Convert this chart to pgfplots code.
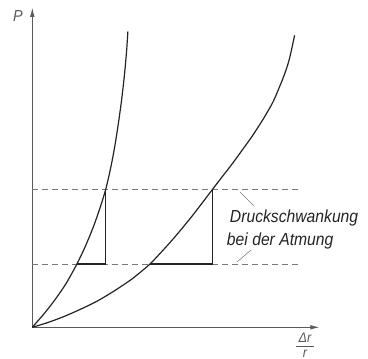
\documentclass[border=0pt]{standalone}
\usepackage{fontspec}
\setmainfont{Liberation Sans}
\newfontfamily\din[FakeStretch=0.9]{Liberation Sans}
\usepackage{pgfplots}
\pgfplotsset{compat=1.18}
\usetikzlibrary{arrows.meta}
\definecolor{axisgray}{RGB}{90,90,90}
\definecolor{curveblack}{RGB}{35,35,35}
\definecolor{dashgray}{RGB}{120,120,120}

\begin{document}
\begin{tikzpicture}
\begin{axis}[
  at={(0,0)}, anchor=origin,
  x=1bp, y=1bp,
  xmin=0, xmax=287, ymin=0, ymax=319.5,
  enlargelimits=false,
  axis lines=left,
  axis line style={axisgray, line width=0.7bp},
  x axis line style={-{Latex[length=9bp,width=4.5bp]}},
  y axis line style={-{Latex[length=9bp,width=4.5bp]}},
  xtick=\empty, ytick=\empty,
  clip=false,
]
  % pressure levels (breathing range)
  \addplot[dashgray, line width=0.8bp, dash pattern=on 6bp off 4bp]
    coordinates {(0,63.3)(267,63.3)};
  \addplot[dashgray, line width=0.8bp, dash pattern=on 6bp off 4bp]
    coordinates {(0,138.3)(267,138.3)};

  % steep curve
  \addplot[curveblack, line width=1.2bp, smooth] coordinates {
    (0,0)(11.7,13.5)(22.5,27.3)(33.9,44)(44.6,63.3)(52.6,80)(60.9,100)
    (67.9,120)(73.5,138.3)(78.5,160)(82.3,180)(85.5,200)(89,225)
    (91.9,250)(94.2,275)(95.6,296)};
  % flat curve
  \addplot[curveblack, line width=1.2bp, smooth] coordinates {
    (0,0)(15,4.6)(31,10.5)(47,17.5)(64,25.7)(81,35.8)(98,47.1)(108,55)
    (117.7,63.3)(129,75.2)(140,87.4)(150,99.2)(160,111.5)(170,124.5)
    (180.5,138.3)(190,150.7)(200,163.6)(210,177.3)(220,191.3)(230,206.8)
    (240,224)(246,237.5)(252,252.5)(257,268)(262.3,292)};

  % triangles
  \addplot[curveblack, line width=1.1bp] coordinates {(44.6,63.3)(73.5,63.3)(73.5,138.3)};
  \addplot[curveblack, line width=1.1bp] coordinates {(117.7,63.3)(180.5,63.3)(180.5,138.3)};

  % leader lines
  \addplot[dashgray, line width=0.5bp] coordinates {(207.7,135.3)(221.7,121.3)};
  \addplot[dashgray, line width=0.5bp] coordinates {(218.7,77.3)(204.7,65.3)};

  \node[anchor=base west, inner sep=0pt, text=curveblack]
    at (axis cs:197.5,105.3) {\din\itshape\fontsize{17.5}{20}\selectfont Druckschwankung};
  \node[anchor=base west, inner sep=0pt, text=curveblack]
    at (axis cs:194.5,82.3) {\din\itshape\fontsize{17.5}{20}\selectfont bei der Atmung};

  \node[text=axisgray, inner sep=0pt]
    at (axis cs:-14.3,311.3) {\din\itshape\fontsize{16}{18}\selectfont P};
  \node[anchor=base, inner sep=0pt, text=axisgray]
    at (axis cs:272.7,-15.5) {\din\itshape\fontsize{14}{14}\selectfont Δr};
  \node[anchor=north, inner sep=0pt, text=axisgray]
    at (axis cs:272.7,-22.5) {\din\itshape\fontsize{14}{14}\selectfont r};
  \addplot[axisgray, line width=0.6bp] coordinates {(263.5,-19.4)(282,-19.4)};

  \coordinate (bl) at (axis cs:-32.3,-31.7);
  \coordinate (tr) at (axis cs:335.7,327.3);
\end{axis}
\pgfresetboundingbox
\path (bl) rectangle (tr);
\end{tikzpicture}
\end{document}
